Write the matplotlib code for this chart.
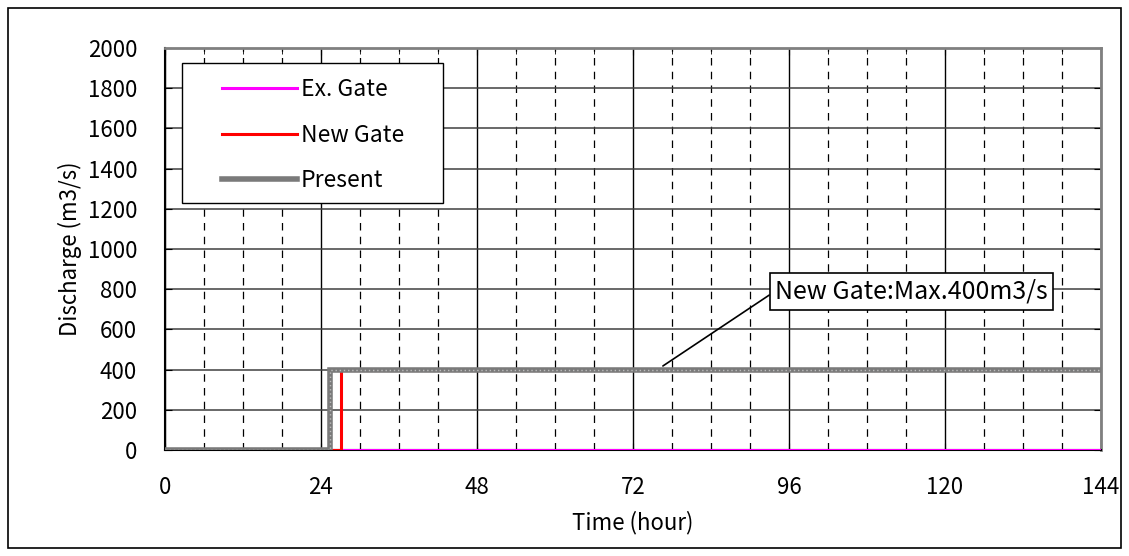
import numpy as np
import matplotlib.pyplot as plt
from matplotlib.patches import Rectangle
from matplotlib.legend_handler import HandlerLine2D

plt.rcParams['font.family'] = ['Noto Sans CJK JP', 'DejaVu Sans']
plt.rcParams['font.size'] = 16

# data
ex_t = [0, 144]
ex_q = [0, 0]
new_t = [0, 27.1, 27.1, 144]
new_q = [0, 0, 400, 400]
pres_t = [0, 25.4, 25.4, 144]
pres_q = [0, 0, 400, 400]

fig = plt.figure(figsize=(11.29, 5.56), dpi=100)
fig.patches.append(Rectangle((8/1129, 8/556), 1113/1129, 540/556,
                             transform=fig.transFigure, fill=False,
                             edgecolor='black', linewidth=1.2))
ax = fig.add_axes([165/1129, 106/556, 936/1129, 402/556])

l1, = ax.plot(ex_t, ex_q, color='#ff00ff', lw=2.2, label='Ex. Gate', zorder=3)
l2, = ax.plot(new_t, new_q, color='#ff0000', lw=2.2, label='New Gate', zorder=4)
l3, = ax.plot(pres_t, pres_q, color='#7a7a7a', lw=4, label='Present', zorder=5,
              solid_joinstyle='miter')
ax.plot(pres_t, pres_q, color='#bdbdbd', lw=1, ls=(0, (1, 2)), zorder=6)

ax.set_xlim(0, 144)
ax.set_ylim(0, 2000)
ax.set_xticks(np.arange(0, 145, 24))
ax.set_xticks(np.arange(0, 145, 6), minor=True)
ax.set_yticks(np.arange(0, 2001, 200))
ax.tick_params(which='both', direction='in', top=True, right=True)
ax.tick_params(which='major', length=5)
ax.tick_params(axis='x', which='major', pad=19)
ax.tick_params(axis='y', which='major', pad=20)
ax.tick_params(which='minor', length=4)

ax.grid(axis='y', which='major', color='#404040', lw=1.1)
ax.grid(axis='x', which='major', color='black', lw=1)
ax.grid(axis='x', which='minor', color='black', lw=0.9, ls=(0, (6, 5)))
ax.set_axisbelow(True)
for s in ['left', 'bottom']:
    ax.spines[s].set_color('black')
    ax.spines[s].set_linewidth(1.5)
for s in ['top', 'right']:
    ax.spines[s].set_color('#808080')
    ax.spines[s].set_linewidth(2)

ax.set_xlabel('Time (hour)', labelpad=8)
ax.set_ylabel('Discharge (m3/s)', labelpad=4)

# legend frame drawn separately (wider than the content)
ax.add_patch(Rectangle((17/936, 247/402), 261/936, 140/402,
                       transform=ax.transAxes, fc='white', ec='black',
                       lw=1, zorder=9))
hm = {h: HandlerLine2D(xpad=1.2) for h in (l1, l2, l3)}
leg = ax.legend(handles=[l1, l2, l3], handler_map=hm,
                loc='upper left', bbox_to_anchor=(17/936, 1 - 17/402),
                frameon=False, handlelength=4.45, handletextpad=0.18,
                labelspacing=1.0, borderpad=0.55, borderaxespad=0,
                fontsize=16.5)
leg.set_zorder(10)

ax.annotate('New Gate:Max.400m3/s', xy=(76.6, 418), xytext=(93.9, 791),
            va='center', ha='left', fontsize=18,
            bbox=dict(boxstyle='square,pad=0.22', fc='white', ec='black', lw=1.2),
            arrowprops=dict(arrowstyle='-', color='black', lw=1.2,
                            shrinkA=0, shrinkB=0,
                            relpos=(0, 0.5)), zorder=10)

fig.savefig('out.png', dpi=100)
